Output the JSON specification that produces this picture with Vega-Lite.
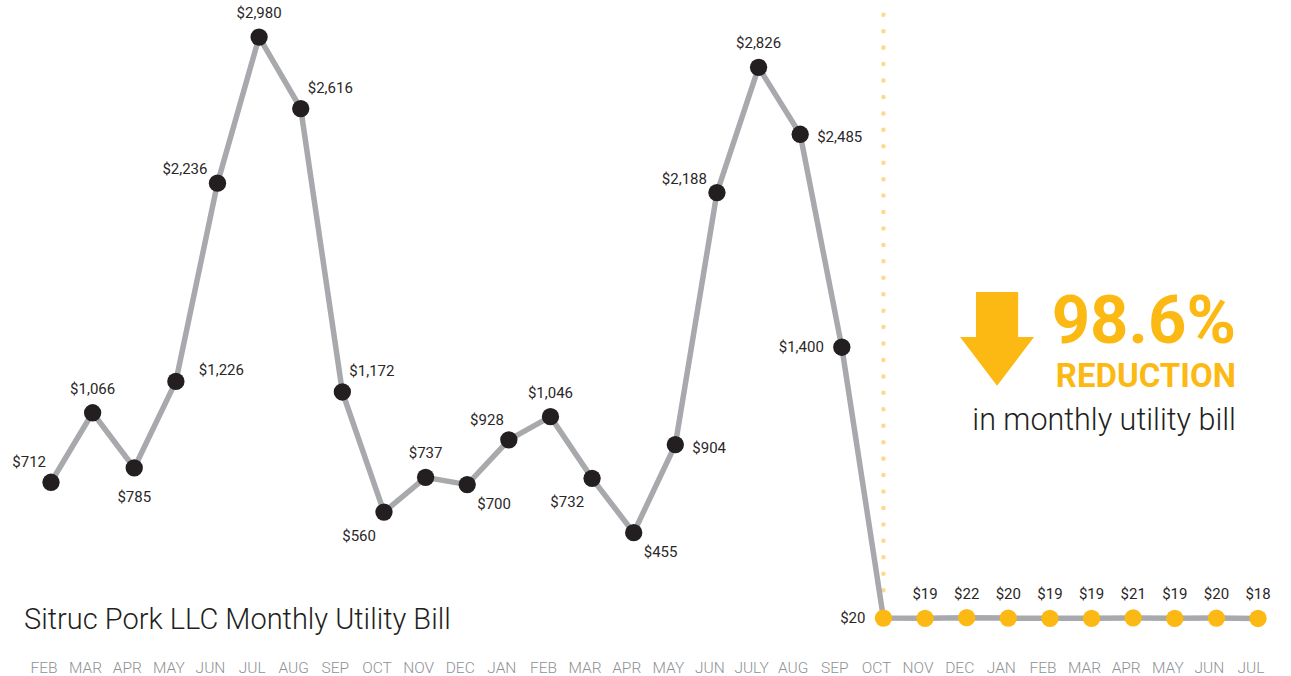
{
  "$schema": "https://vega.github.io/schema/vega-lite/v6.json",
  "width": 1291,
  "height": 676,
  "autosize": {"type": "none"},
  "padding": 0,
  "background": "white",
  "config": {
    "view": {"stroke": null},
    "text": {"font": "Roboto", "color": "#2b2728"}
  },
  "data": {
    "values": [
      {"i": 0, "month": "FEB", "value": 712, "phase": "before"},
      {"i": 1, "month": "MAR", "value": 1066, "phase": "before"},
      {"i": 2, "month": "APR", "value": 785, "phase": "before"},
      {"i": 3, "month": "MAY", "value": 1226, "phase": "before"},
      {"i": 4, "month": "JUN", "value": 2236, "phase": "before"},
      {"i": 5, "month": "JUL", "value": 2980, "phase": "before"},
      {"i": 6, "month": "AUG", "value": 2616, "phase": "before"},
      {"i": 7, "month": "SEP", "value": 1172, "phase": "before"},
      {"i": 8, "month": "OCT", "value": 560, "phase": "before"},
      {"i": 9, "month": "NOV", "value": 737, "phase": "before"},
      {"i": 10, "month": "DEC", "value": 700, "phase": "before"},
      {"i": 11, "month": "JAN", "value": 928, "phase": "before"},
      {"i": 12, "month": "FEB", "value": 1046, "phase": "before"},
      {"i": 13, "month": "MAR", "value": 732, "phase": "before"},
      {"i": 14, "month": "APR", "value": 455, "phase": "before"},
      {"i": 15, "month": "MAY", "value": 904, "phase": "before"},
      {"i": 16, "month": "JUN", "value": 2188, "phase": "before"},
      {"i": 17, "month": "JULY", "value": 2826, "phase": "before"},
      {"i": 18, "month": "AUG", "value": 2485, "phase": "before"},
      {"i": 19, "month": "SEP", "value": 1400, "phase": "before"},
      {"i": 20, "month": "OCT", "value": 20, "phase": "after"},
      {"i": 21, "month": "NOV", "value": 19, "phase": "after"},
      {"i": 22, "month": "DEC", "value": 22, "phase": "after"},
      {"i": 23, "month": "JAN", "value": 20, "phase": "after"},
      {"i": 24, "month": "FEB", "value": 19, "phase": "after"},
      {"i": 25, "month": "MAR", "value": 19, "phase": "after"},
      {"i": 26, "month": "APR", "value": 21, "phase": "after"},
      {"i": 27, "month": "MAY", "value": 19, "phase": "after"},
      {"i": 28, "month": "JUN", "value": 20, "phase": "after"},
      {"i": 29, "month": "JUL", "value": 18, "phase": "after"}
    ]
  },
  "layer": [
    {
      "data": {"values": [{"note": "divider"}]},
      "mark": {"type": "rule", "color": "#fdd98b", "strokeWidth": 4.5, "strokeDash": [0.01, 16.43], "strokeCap": "round", "strokeDashOffset": 1.7},
      "encoding": {
        "x": {"datum": 20, "type": "quantitative", "scale": {"domain": [-1.2253, 29.792], "nice": false, "zero": false}, "axis": null},
        "y": {"datum": 3169, "type": "quantitative", "scale": {"domain": [-275, 3169], "nice": false, "zero": false}, "axis": null},
        "y2": {"datum": 152}
      }
    },
    {
      "mark": {"type": "line", "color": "#a7a9ac", "strokeWidth": 5.5},
      "encoding": {
        "x": {"field": "i", "type": "quantitative", "scale": {"domain": [-1.2253, 29.792], "nice": false, "zero": false}, "axis": null},
        "y": {"field": "value", "type": "quantitative", "scale": {"domain": [-275, 3169], "nice": false, "zero": false}, "axis": null},
        "order": {"field": "i", "type": "quantitative"}
      }
    },
    {
      "mark": {"type": "point", "filled": true, "opacity": 1, "size": 300},
      "encoding": {
        "x": {"field": "i", "type": "quantitative", "scale": {"domain": [-1.2253, 29.792], "nice": false, "zero": false}, "axis": null},
        "y": {"field": "value", "type": "quantitative", "scale": {"domain": [-275, 3169], "nice": false, "zero": false}, "axis": null},
        "color": {"field": "phase", "type": "nominal", "scale": {"domain": ["before", "after"], "range": ["#231f20", "#fdb913"]}, "legend": null}
      }
    },
    {
      "mark": {"type": "text", "font": "Roboto", "fontSize": 15.5, "fontWeight": 300, "color": "#8f9194", "align": "center", "baseline": "alphabetic", "dx": -7},
      "encoding": {
        "x": {"field": "i", "type": "quantitative", "scale": {"domain": [-1.2253, 29.792], "nice": false, "zero": false}, "axis": null},
        "y": {"datum": -260, "type": "quantitative", "scale": {"domain": [-275, 3169], "nice": false, "zero": false}, "axis": null},
        "text": {"field": "month", "type": "nominal"}
      }
    },
    {
      "transform": [{"filter": "indexof([1,5,9,12,17,21,22,23,24,25,26,27,28,29], datum.i) >= 0"}],
      "mark": {"type": "text", "fontSize": 15, "align": "center", "baseline": "middle", "dy": -24},
      "encoding": {
        "x": {"field": "i", "type": "quantitative", "scale": {"domain": [-1.2253, 29.792], "nice": false, "zero": false}, "axis": null},
        "y": {"field": "value", "type": "quantitative", "scale": {"domain": [-275, 3169], "nice": false, "zero": false}, "axis": null},
        "text": {"field": "value", "type": "quantitative", "format": "$,.0f"}
      }
    },
    {
      "transform": [{"filter": "datum.i == 2"}],
      "mark": {"type": "text", "fontSize": 15, "align": "center", "baseline": "middle", "dy": 29},
      "encoding": {
        "x": {"field": "i", "type": "quantitative", "scale": {"domain": [-1.2253, 29.792], "nice": false, "zero": false}, "axis": null},
        "y": {"field": "value", "type": "quantitative", "scale": {"domain": [-275, 3169], "nice": false, "zero": false}, "axis": null},
        "text": {"field": "value", "type": "quantitative", "format": "$,.0f"}
      }
    },
    {
      "transform": [{"filter": "datum.i == 0 || datum.i == 11"}],
      "mark": {"type": "text", "fontSize": 15, "align": "right", "baseline": "middle", "dx": -5, "dy": -20},
      "encoding": {
        "x": {"field": "i", "type": "quantitative", "scale": {"domain": [-1.2253, 29.792], "nice": false, "zero": false}, "axis": null},
        "y": {"field": "value", "type": "quantitative", "scale": {"domain": [-275, 3169], "nice": false, "zero": false}, "axis": null},
        "text": {"field": "value", "type": "quantitative", "format": "$,.0f"}
      }
    },
    {
      "transform": [{"filter": "datum.i == 4 || datum.i == 16"}],
      "mark": {"type": "text", "fontSize": 15, "align": "right", "baseline": "middle", "dx": -10, "dy": -14},
      "encoding": {
        "x": {"field": "i", "type": "quantitative", "scale": {"domain": [-1.2253, 29.792], "nice": false, "zero": false}, "axis": null},
        "y": {"field": "value", "type": "quantitative", "scale": {"domain": [-275, 3169], "nice": false, "zero": false}, "axis": null},
        "text": {"field": "value", "type": "quantitative", "format": "$,.0f"}
      }
    },
    {
      "transform": [{"filter": "datum.i == 6 || datum.i == 7"}],
      "mark": {"type": "text", "fontSize": 15, "align": "left", "baseline": "middle", "dx": 7, "dy": -21},
      "encoding": {
        "x": {"field": "i", "type": "quantitative", "scale": {"domain": [-1.2253, 29.792], "nice": false, "zero": false}, "axis": null},
        "y": {"field": "value", "type": "quantitative", "scale": {"domain": [-275, 3169], "nice": false, "zero": false}, "axis": null},
        "text": {"field": "value", "type": "quantitative", "format": "$,.0f"}
      }
    },
    {
      "transform": [{"filter": "datum.i == 3"}],
      "mark": {"type": "text", "fontSize": 15, "align": "left", "baseline": "middle", "dx": 23, "dy": -11},
      "encoding": {
        "x": {"field": "i", "type": "quantitative", "scale": {"domain": [-1.2253, 29.792], "nice": false, "zero": false}, "axis": null},
        "y": {"field": "value", "type": "quantitative", "scale": {"domain": [-275, 3169], "nice": false, "zero": false}, "axis": null},
        "text": {"field": "value", "type": "quantitative", "format": "$,.0f"}
      }
    },
    {
      "transform": [{"filter": "datum.i == 15 || datum.i == 18"}],
      "mark": {"type": "text", "fontSize": 15, "align": "left", "baseline": "middle", "dx": 17, "dy": 3},
      "encoding": {
        "x": {"field": "i", "type": "quantitative", "scale": {"domain": [-1.2253, 29.792], "nice": false, "zero": false}, "axis": null},
        "y": {"field": "value", "type": "quantitative", "scale": {"domain": [-275, 3169], "nice": false, "zero": false}, "axis": null},
        "text": {"field": "value", "type": "quantitative", "format": "$,.0f"}
      }
    },
    {
      "transform": [{"filter": "datum.i == 19 || datum.i == 20"}],
      "mark": {"type": "text", "fontSize": 15, "align": "right", "baseline": "middle", "dx": -18, "dy": 0},
      "encoding": {
        "x": {"field": "i", "type": "quantitative", "scale": {"domain": [-1.2253, 29.792], "nice": false, "zero": false}, "axis": null},
        "y": {"field": "value", "type": "quantitative", "scale": {"domain": [-275, 3169], "nice": false, "zero": false}, "axis": null},
        "text": {"field": "value", "type": "quantitative", "format": "$,.0f"}
      }
    },
    {
      "transform": [{"filter": "datum.i == 8 || datum.i == 13"}],
      "mark": {"type": "text", "fontSize": 15, "align": "right", "baseline": "middle", "dx": -8, "dy": 24},
      "encoding": {
        "x": {"field": "i", "type": "quantitative", "scale": {"domain": [-1.2253, 29.792], "nice": false, "zero": false}, "axis": null},
        "y": {"field": "value", "type": "quantitative", "scale": {"domain": [-275, 3169], "nice": false, "zero": false}, "axis": null},
        "text": {"field": "value", "type": "quantitative", "format": "$,.0f"}
      }
    },
    {
      "transform": [{"filter": "datum.i == 10 || datum.i == 14"}],
      "mark": {"type": "text", "fontSize": 15, "align": "left", "baseline": "middle", "dx": 10, "dy": 19},
      "encoding": {
        "x": {"field": "i", "type": "quantitative", "scale": {"domain": [-1.2253, 29.792], "nice": false, "zero": false}, "axis": null},
        "y": {"field": "value", "type": "quantitative", "scale": {"domain": [-275, 3169], "nice": false, "zero": false}, "axis": null},
        "text": {"field": "value", "type": "quantitative", "format": "$,.0f"}
      }
    },
    {
      "data": {"values": [{"note": "arrow"}]},
      "mark": {"type": "point", "shape": "M-0.57,-1.22 L0.57,-1.22 L0.57,0 L1,0 L0,1.32 L-1,0 L-0.57,0 Z", "filled": true, "opacity": 1, "color": "#fdb913", "size": 5476, "strokeWidth": 0},
      "encoding": {
        "x": {"datum": 22.73, "type": "quantitative", "scale": {"domain": [-1.2253, 29.792], "nice": false, "zero": false}, "axis": null},
        "y": {"datum": 1452, "type": "quantitative", "scale": {"domain": [-275, 3169], "nice": false, "zero": false}, "axis": null}
      }
    },
    {
      "data": {"values": [{"t": "98.6%"}]},
      "mark": {"type": "text", "font": "Roboto", "fontSize": 67, "fontWeight": "bold", "color": "#fdb913", "align": "right", "baseline": "alphabetic"},
      "encoding": {
        "x": {"datum": 28.47, "type": "quantitative", "scale": {"domain": [-1.2253, 29.792], "nice": false, "zero": false}, "axis": null},
        "y": {"datum": 1421, "type": "quantitative", "scale": {"domain": [-275, 3169], "nice": false, "zero": false}, "axis": null},
        "text": {"field": "t"}
      }
    },
    {
      "data": {"values": [{"t": "REDUCTION"}]},
      "mark": {"type": "text", "font": "Roboto", "fontSize": 33, "fontWeight": "bold", "color": "#fdb913", "align": "right", "baseline": "alphabetic"},
      "encoding": {
        "x": {"datum": 28.47, "type": "quantitative", "scale": {"domain": [-1.2253, 29.792], "nice": false, "zero": false}, "axis": null},
        "y": {"datum": 1197, "type": "quantitative", "scale": {"domain": [-275, 3169], "nice": false, "zero": false}, "axis": null},
        "text": {"field": "t"}
      }
    },
    {
      "data": {"values": [{"t": "in monthly utility bill"}]},
      "mark": {"type": "text", "font": "Roboto", "fontSize": 30.5, "fontWeight": 300, "color": "#231f20", "align": "right", "baseline": "alphabetic"},
      "encoding": {
        "x": {"datum": 28.47, "type": "quantitative", "scale": {"domain": [-1.2253, 29.792], "nice": false, "zero": false}, "axis": null},
        "y": {"datum": 978, "type": "quantitative", "scale": {"domain": [-275, 3169], "nice": false, "zero": false}, "axis": null},
        "text": {"field": "t"}
      }
    },
    {
      "data": {"values": [{"t": "Sitruc Pork LLC Monthly Utility Bill"}]},
      "mark": {"type": "text", "font": "Roboto", "fontSize": 29, "fontWeight": 300, "color": "#231f20", "align": "left", "baseline": "alphabetic"},
      "encoding": {
        "x": {"datum": -0.649, "type": "quantitative", "scale": {"domain": [-1.2253, 29.792], "nice": false, "zero": false}, "axis": null},
        "y": {"datum": -36, "type": "quantitative", "scale": {"domain": [-275, 3169], "nice": false, "zero": false}, "axis": null},
        "text": {"field": "t"}
      }
    }
  ]
}
